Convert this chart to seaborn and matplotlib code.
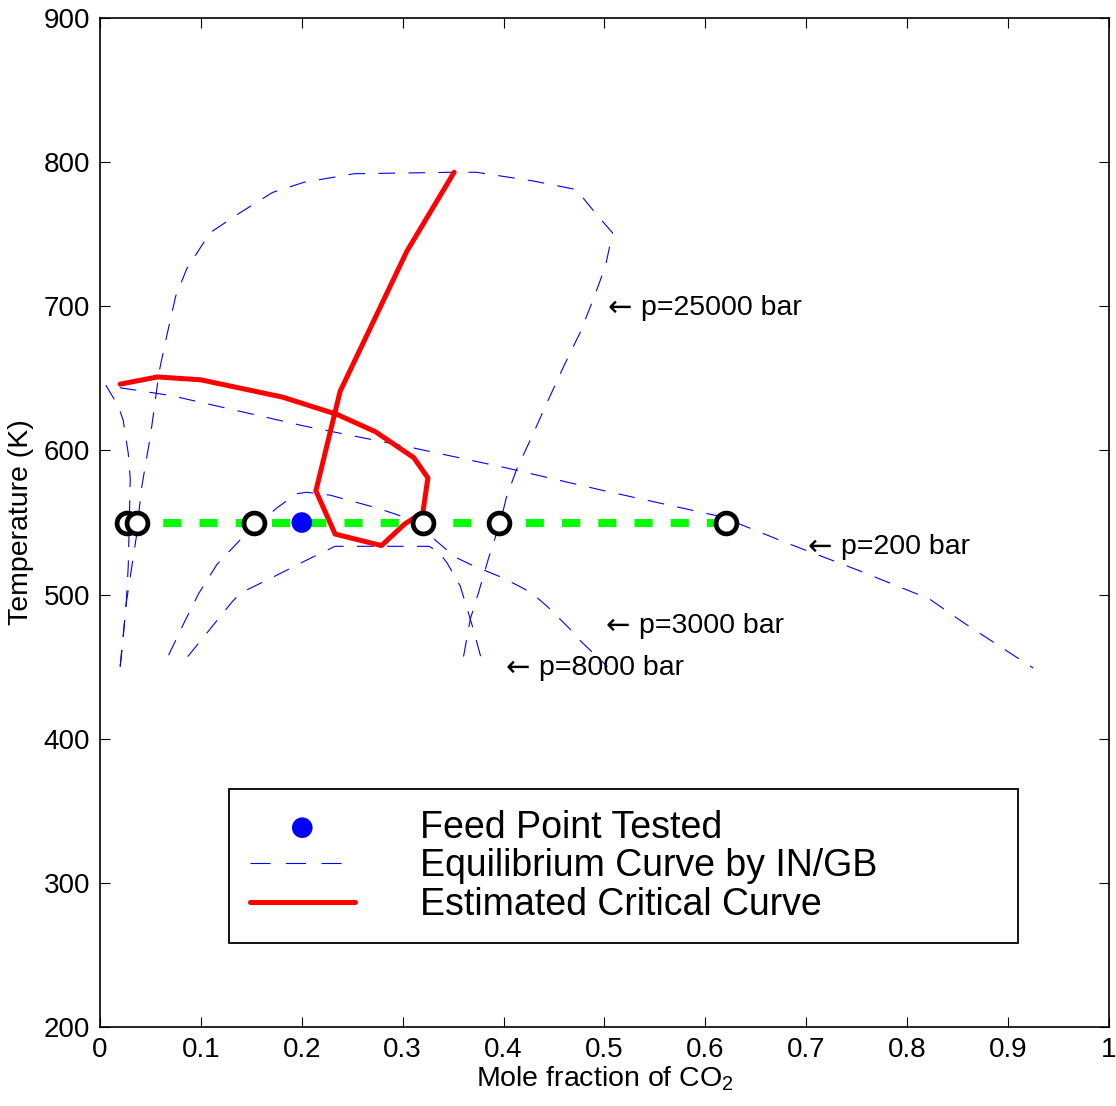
import matplotlib
matplotlib.use("Agg")
import matplotlib.pyplot as plt
import matplotlib.colors as mcolors
import seaborn as sns

# equilibrium curves (x = mole fraction CO2, T in K)
p200_x = [0.020, 0.023, 0.026, 0.028, 0.029, 0.030, 0.028, 0.023, 0.018, 0.006,
          0.071, 0.146, 0.202, 0.309, 0.402, 0.500, 0.616, 0.680, 0.751, 0.822, 0.857, 0.925]
p200_T = [450, 471, 494, 520, 550, 580, 598, 621, 631, 645,
          638, 626, 617, 602, 588, 572, 554, 536, 517, 497, 480, 449]

p25000_x = [0.020, 0.023, 0.026, 0.031, 0.036, 0.041, 0.046, 0.050, 0.056, 0.059, 0.066,
            0.075, 0.086, 0.109, 0.139, 0.171, 0.202, 0.252, 0.351, 0.373, 0.429, 0.472,
            0.493, 0.508, 0.501, 0.489, 0.476, 0.460, 0.443, 0.427, 0.413, 0.403, 0.397,
            0.385, 0.375, 0.367, 0.359]
p25000_T = [450, 471, 494, 517, 540, 573, 594, 610, 641, 656, 679,
            707, 726, 751, 765, 779, 786, 792, 793, 793, 787, 781,
            763, 751, 728, 705, 682, 659, 633, 608, 587, 568, 551,
            525, 501, 483, 452]

p3000_x = [0.068, 0.083, 0.098, 0.116, 0.139, 0.175, 0.195, 0.205, 0.228, 0.275, 0.309,
           0.322, 0.332, 0.352, 0.367, 0.384, 0.398, 0.415, 0.428, 0.443, 0.453, 0.466,
           0.476, 0.491, 0.503]
p3000_T = [458, 480, 501, 521, 538, 560, 570, 571, 569, 560, 552,
           549, 538, 526, 521, 516, 512, 506, 501, 492, 485, 476,
           468, 458, 450]

p8000_x = [0.087, 0.109, 0.131, 0.139, 0.174, 0.205, 0.233, 0.326, 0.335, 0.344, 0.357,
           0.364, 0.370, 0.380]
p8000_T = [457, 476, 495, 501, 513, 524, 533.5, 533.5, 530, 522, 506,
           490, 476, 450]

# estimated critical curve
crit_x = [0.020, 0.057, 0.100, 0.181, 0.235, 0.273, 0.311, 0.325, 0.320, 0.302, 0.279,
          0.233, 0.214, 0.238, 0.304, 0.351]
crit_T = [646, 651, 649, 637, 625, 613, 595, 581, 557, 549, 534,
          542, 572, 641, 738, 793]

# tie line at 550 K with the intersections
tie_x = [0.027, 0.037, 0.153, 0.320, 0.395, 0.620]
tie_T = [550, 550, 550, 550, 550, 550]

feed_x = [0.2]
feed_T = [550]

curve_labels = ["p=25000 bar", "p=200 bar", "p=3000 bar", "p=8000 bar"]
label_x = [0.503, 0.701, 0.501, 0.402]
label_T = [699, 533, 478.5, 449]

x_ticks = [0, 0.1, 0.2, 0.3, 0.4, 0.5, 0.6, 0.7, 0.8, 0.9, 1]
x_tick_labels = ["0", "0.1", "0.2", "0.3", "0.4", "0.5", "0.6", "0.7", "0.8", "0.9", "1"]
y_ticks = [200, 300, 400, 500, 600, 700, 800, 900]

sns.set_theme(style="ticks", rc={
    "xtick.direction": "in", "ytick.direction": "in",
    "xtick.top": True, "ytick.right": True,
    "xtick.major.size": 7, "ytick.major.size": 7,
    "xtick.major.width": 0.8, "ytick.major.width": 0.8,
    "axes.linewidth": 1.2, "axes.edgecolor": "black",
    "xtick.color": "black", "ytick.color": "black",
    "text.color": "black", "axes.labelcolor": "black",
    "mathtext.default": "regular",
})
plt.rcParams["font.family"] = ["Liberation Sans", "DejaVu Sans"]

fig, ax = plt.subplots(figsize=(11.16, 11.06), dpi=100)
fig.subplots_adjust(left=0.0896, right=0.9937, bottom=0.0714, top=0.9837)

eq_kw = dict(color="blue", lw=0.8, linestyle=(0, (15, 12)), sort=False, estimator=None, zorder=2)
curves = [(p200_x, p200_T), (p25000_x, p25000_T), (p3000_x, p3000_T), (p8000_x, p8000_T)]
for i, (xs, ts) in enumerate(curves):
    sns.lineplot(x=xs, y=ts, ax=ax,
                 label="Equilibrium Curve by IN/GB" if i == 0 else None, **eq_kw)

sns.lineplot(x=crit_x, y=crit_T, ax=ax, color="red", lw=3.6, sort=False, estimator=None,
             label="Estimated Critical Curve", zorder=3)

sns.lineplot(x=tie_x, y=tie_T, ax=ax, color="#00ff00", lw=5.8, sort=False, estimator=None,
             linestyle=(0, (2.25, 2.25)), zorder=4)
sns.scatterplot(x=tie_x, y=tie_T, ax=ax, s=225, color="white", edgecolor="black",
                linewidth=3.4, zorder=5)
sns.scatterplot(x=feed_x, y=feed_T, ax=ax, s=220, color="blue", edgecolor="none",
                label="Feed Point Tested", zorder=6)

# pressure labels: arrow glyph in DejaVu (wider), text in Liberation
for txt, lx, lt in zip(curve_labels, label_x, label_T):
    ax.text(lx, lt, "\u2190", fontsize=21, va="center", ha="left", family="DejaVu Sans")
    ax.annotate(txt, (lx, lt), xytext=(24, 0), textcoords="offset points",
                fontsize=20.5, va="center", ha="left")

ax.set_xlim(0, 1)
ax.set_ylim(200, 900)
ax.set_xticks(x_ticks)
ax.set_xticklabels(x_tick_labels)
ax.set_yticks(y_ticks)
ax.tick_params(labelsize=20, pad=7)
ax.set_xlabel("Mole fraction of CO$_2$", fontsize=20.5, labelpad=1)
ax.set_ylabel("Temperature (K)", fontsize=20.5, labelpad=7)

handles, labels = ax.get_legend_handles_labels()
lookup = dict(zip(labels, handles))
order = ["Feed Point Tested", "Equilibrium Curve by IN/GB", "Estimated Critical Curve"]
leg = ax.legend([lookup[k] for k in order], order, loc="upper left",
                bbox_to_anchor=(0.128, 0.236, 0.782, 0), mode="expand", borderaxespad=0,
                fontsize=27, handlelength=2.8, handletextpad=1.75, labelspacing=0.07,
                borderpad=0.55, fancybox=False, framealpha=1, edgecolor="black")
leg.get_frame().set_linewidth(1.3)
for line in leg.get_lines():
    if mcolors.same_color(line.get_color(), "blue"):
        line.set_linestyle((0, (18, 14)))

fig.savefig("out.png", dpi=100)
